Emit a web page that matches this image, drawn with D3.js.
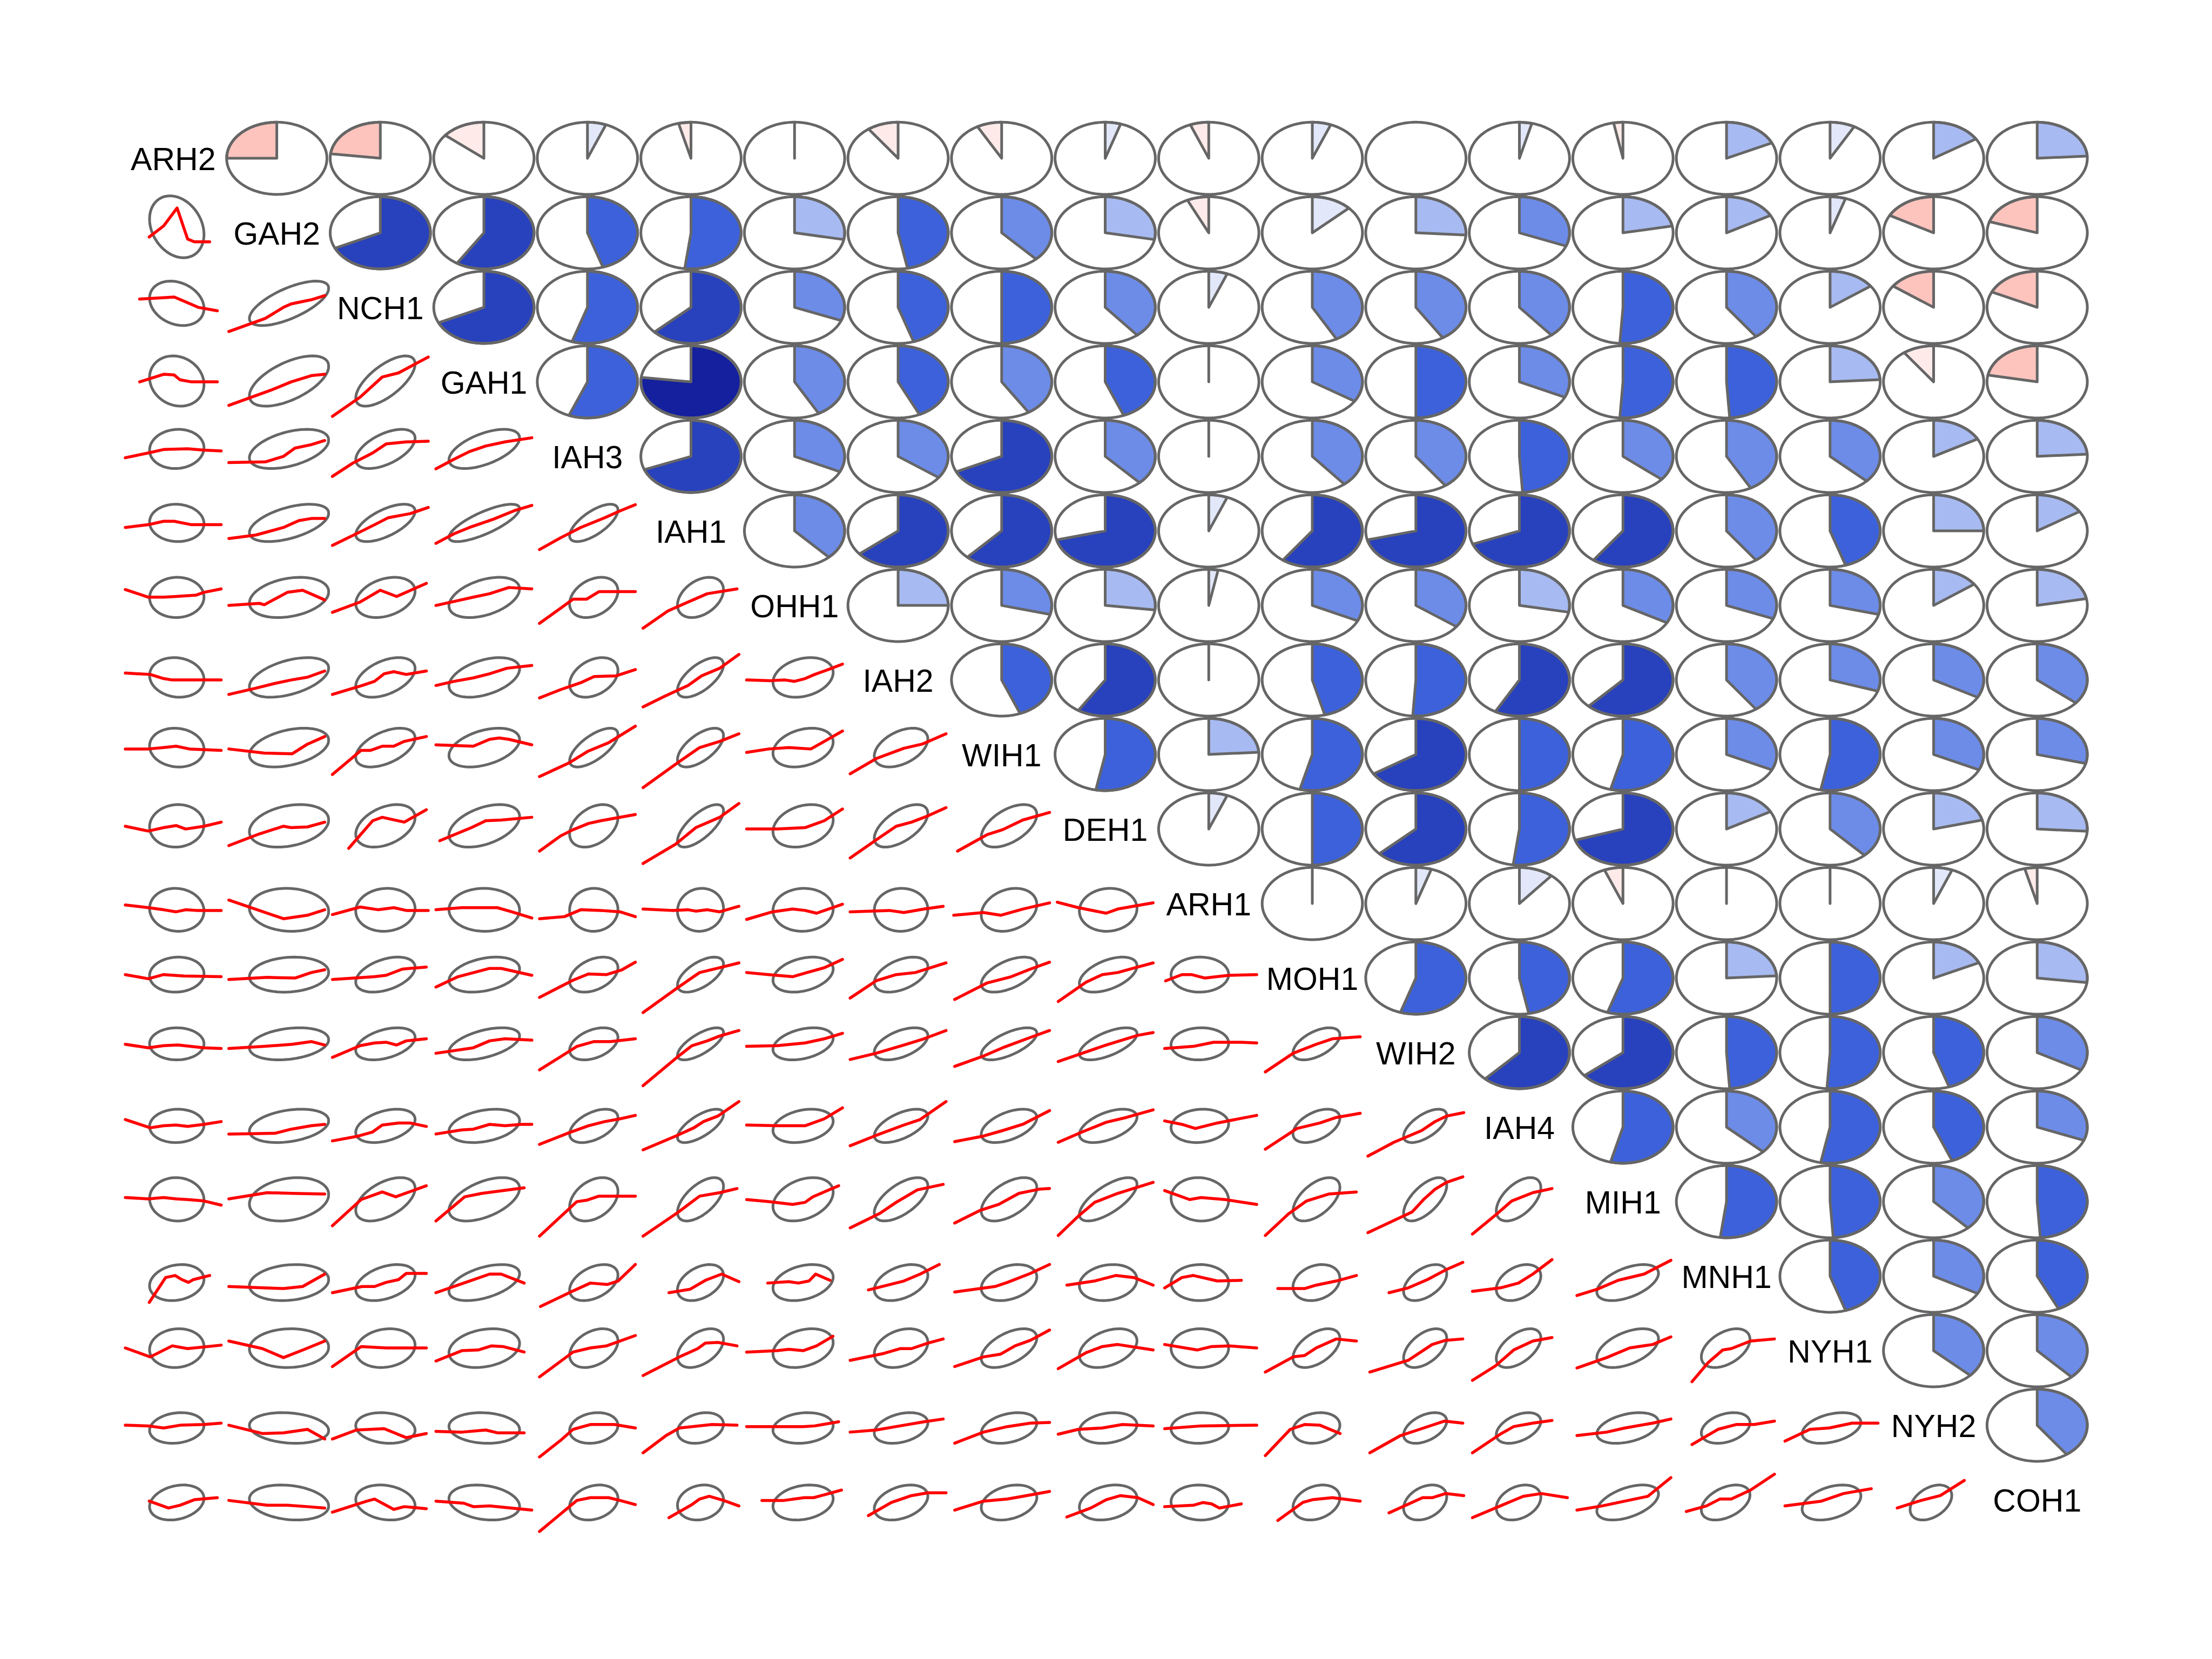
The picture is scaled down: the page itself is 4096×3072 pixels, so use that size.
<!DOCTYPE html>
<html>
<head>
<meta charset="utf-8">
<script src="https://cdn.jsdelivr.net/npm/d3@7"></script>
<style>
html,body{margin:0;padding:0;background:#ffffff;}
svg{display:block;}
</style>
</head>
<body>
<script>
// ---------------- DATA ----------------
const vars = ["ARH2","GAH2","NCH1","GAH1","IAH3","IAH1","OHH1","IAH2","WIH1","DEH1",
              "ARH1","MOH1","WIH2","IAH4","MIH1","MNH1","NYH1","NYH2","COH1"];

// correlations, upper triangle: row i holds r(i, j) for j = i+1 .. 18
const corrUpper = [
 [-0.25,-0.23,-0.14,0.06,-0.04,0.02,-0.10,-0.08,0.05,-0.06,0.06,0.00,0.04,-0.03,0.18,0.08,0.16,0.24],
 [0.68,0.59,0.45,0.52,0.28,0.47,0.38,0.28,-0.07,0.13,0.26,0.31,0.22,0.17,0.05,-0.17,-0.20],
 [0.68,0.55,0.63,0.31,0.45,0.50,0.39,0.06,0.42,0.41,0.39,0.51,0.40,0.15,-0.15,-0.18],
 [0.56,0.77,0.42,0.43,0.41,0.44,-0.01,0.34,0.50,0.32,0.51,0.49,0.24,-0.10,-0.22],
 [0.69,0.32,0.35,0.68,0.38,0.01,0.39,0.40,0.49,0.36,0.42,0.37,0.17,0.24],
 [0.38,0.64,0.62,0.71,0.06,0.60,0.71,0.69,0.60,0.40,0.45,0.25,0.16],
 [0.25,0.29,0.27,0.03,0.32,0.35,0.28,0.33,0.31,0.29,0.15,0.22],
 [0.44,0.59,0.02,0.46,0.51,0.58,0.62,0.40,0.30,0.33,0.36],
 [0.53,0.24,0.54,0.66,0.50,0.54,0.32,0.53,0.32,0.29],
 [0.06,0.50,0.63,0.52,0.70,0.17,0.38,0.21,0.26],
 [0.01,0.05,0.11,-0.06,0.01,0.01,0.06,-0.04],
 [0.55,0.47,0.55,0.24,0.50,0.18,0.27],
 [0.62,0.64,0.49,0.51,0.45,0.33],
 [0.54,0.37,0.53,0.44,0.31],
 [0.52,0.49,0.38,0.49],
 [0.45,0.33,0.43],
 [0.37,0.38],
 [0.40]
];

// per-variable mean and sd, as a fraction of each variable's range (x = column use, y = row use)
const meanX = [0.537,0.628,0.553,0.504,0.566,0.599,0.589,0.531,0.577,0.531,0.407,0.543,0.597,0.491,0.549,0.491,0.515,0.472,null];
const sdX   = [0.188,0.274,0.205,0.244,0.167,0.159,0.208,0.185,0.192,0.199,0.199,0.162,0.149,0.154,0.213,0.168,0.203,0.144,null];
const meanY = [null,0.587,0.558,0.512,0.608,0.616,0.616,0.537,0.600,0.546,0.409,0.550,0.627,0.518,0.534,0.407,0.537,0.460,0.460];
const sdY   = [null,0.297,0.213,0.241,0.188,0.179,0.193,0.190,0.186,0.204,0.206,0.168,0.154,0.160,0.208,0.173,0.186,0.147,0.168];

// lowess smooth lines of the lower panels, in percent of each variable's range: "x,y x,y ..."
const smooth = [
 [],
 ["25,44 40,60 54,86 65,41 72,37 88,37"],
 ["15,62 40,64 51,65 61,59 76,50 96,45","0,15 38,34 57,50 65,55 86,61 100,67"],
 ["15,50 40,61 51,60 57,53 69,50 96,50","0,16 44,38 65,50 86,59 100,61","0,0 29,28 52,57 69,63 100,86"],
 ["0,48 24,55 40,60 65,61 82,59 100,58","0,41 38,42 57,50 69,62 86,67 100,73","0,21 21,40 42,55 56,68 77,71 100,72","0,32 19,46 35,57 52,65 72,71 100,77"],
 ["0,55 24,59 40,64 51,64 69,59 100,59","0,39 28,44 57,55 73,65 86,68 100,68","0,29 31,50 44,59 58,69 81,75 100,84","0,32 19,46 35,55 60,67 83,80 100,87","0,23 22,40 43,55 68,69 84,79 100,88"],
 ["0,73 24,62 40,62 53,63 74,65 82,69 100,74","0,50 32,53 37,51 61,69 77,72 100,58","0,40 29,55 50,72 67,63 98,82","0,50 23,57 39,62 56,67 76,76 100,74","0,24 22,46 35,59 49,59 62,70 100,70","0,17 26,42 47,55 67,67 98,74"],
 ["0,60 26,58 40,52 49,50 82,50 100,50","0,29 28,38 48,45 65,50 82,54 100,63","0,29 31,42 44,48 54,59 64,62 77,58 98,63","0,42 19,48 39,53 56,59 74,67 100,71","0,24 22,36 43,46 57,55 80,56 100,65","0,11 22,26 47,42 61,56 80,67 100,87","0,50 25,49 40,50 50,48 61,52 71,58 87,66 100,73"],
 ["0,58 24,58 40,60 53,62 67,58 100,56","0,58 37,52 66,51 82,65 100,76","0,21 30,56 40,56 52,62 64,62 75,69 98,76","0,64 39,62 56,72 66,74 76,72 100,64","0,18 31,38 51,55 72,67 100,91","0,2 36,38 59,60 80,69 100,80","0,53 23,58 44,60 67,58 81,69 100,84","0,22 27,44 56,59 75,65 100,80"],
 ["0,54 24,47 40,52 53,55 63,50 82,54 100,60","0,26 32,43 57,54 65,52 82,53 100,60","17,22 42,62 52,67 75,60 98,78","4,33 23,44 37,52 52,62 68,63 100,67","0,18 22,40 35,49 51,58 64,62 100,71","0,0 34,28 55,52 80,67 100,87","0,50 32,50 61,52 81,62 100,79","0,8 31,38 48,54 64,60 81,69 100,81","4,18 35,42 51,49 72,63 100,74"],
 ["0,48 24,44 40,41 53,38 63,41 74,40 100,40","0,55 57,28 82,33 100,41","0,34 29,45 48,41 64,44 77,40 100,40","0,41 27,44 64,44 79,38 100,29","0,28 26,31 43,41 64,40 84,38 100,31","0,42 30,40 47,41 55,39 67,41 80,38 100,46","0,27 27,38 48,42 61,40 73,36 100,49","0,38 41,40 56,37 77,42 97,46","0,33 31,37 49,33 72,42 100,51","0,52 22,44 51,36 63,42 100,51"],
 ["0,55 24,49 40,55 61,53 100,52","0,48 40,51 69,50 86,58 100,62","0,48 44,52 56,54 73,63 98,66","0,37 23,52 56,64 68,64 100,54","0,22 35,47 51,56 70,55 86,62 100,73","0,0 36,36 59,58 80,65 100,72","0,58 23,55 48,52 63,58 81,65 100,77","0,21 27,46 48,55 68,58 100,72","1,19 35,43 60,52 80,63 100,73","1,16 30,44 47,55 63,58 84,66 100,72","5,46 22,55 32,55 46,50 71,54 100,55"],
 ["0,62 24,57 40,60 55,61 82,57 100,56","0,56 37,59 66,62 86,66 100,61","0,43 29,60 44,64 56,65 67,61 77,67 98,70","0,49 39,57 56,67 72,70 100,68","0,25 22,44 39,59 57,66 74,66 100,70","0,2 38,46 51,60 67,67 80,74 100,82","0,59 32,60 61,64 81,70 100,78","0,40 27,49 56,61 77,70 100,82","1,30 31,45 51,57 80,72 100,82","1,37 26,49 51,61 72,70 84,75 100,79","4,56 34,59 55,65 84,65 100,64","1,22 30,49 54,62 71,70 100,73"],
 ["0,61 26,49 40,52 53,53 65,51 82,54 100,58","0,40 48,41 65,47 86,52 100,54","0,30 27,37 42,43 52,53 69,56 81,56 98,51","0,40 27,46 39,47 56,54 72,52 89,54 100,54","0,25 31,42 51,52 68,58 84,62 100,67","0,17 34,37 53,49 63,58 78,66 100,87","0,53 32,52 61,52 81,62 100,78","0,23 27,38 56,53 73,61 100,87","1,29 31,37 51,45 72,54 100,74","1,28 26,43 51,57 72,64 100,75","4,59 22,54 36,48 59,56 100,67","1,18 34,48 58,56 75,64 100,70","0,8 27,28 56,45 70,58 82,66 100,71"],
 ["0,56 24,54 40,56 53,54 65,53 82,51 100,45","0,54 40,63 66,62 100,61","0,15 30,53 52,64 66,57 98,73","0,22 30,57 48,62 92,70","0,0 39,50 49,52 62,58 100,58","0,0 36,34 59,58 80,63 98,69","0,53 23,50 48,46 61,49 69,57 96,73","0,12 31,33 48,49 70,67 97,75","1,19 27,37 47,46 68,62 89,68 100,69","1,1 22,29 39,49 63,62 100,78","4,66 30,53 42,56 67,53 100,46","1,1 25,32 44,51 67,61 96,64","0,5 46,35 58,53 70,68 82,78 99,86","1,3 28,34 42,51 64,63 84,69"],
 ["25,12 42,48 52,51 59,45 66,41 71,45 88,51","0,35 37,33 57,32 77,35 100,53","0,26 31,35 44,35 56,41 69,45 77,54 98,54","0,26 31,41 56,53 68,53 92,40","1,6 34,28 53,40 71,38 82,43 100,67","27,26 49,31 65,44 82,53 100,42","22,40 44,42 54,40 65,43 72,53 87,44","19,30 56,43 73,53 93,67","1,27 43,35 56,41 80,54 100,67","10,37 39,43 61,51 80,48 100,37","4,33 22,48 34,51 59,43 84,44","14,32 42,32 54,37 75,43 96,51","22,26 42,33 62,45 81,59 99,70","1,28 30,33 49,40 64,53 84,74","2,22 23,31 45,44 72,53 100,73"],
 ["0,54 26,41 49,57 65,53 100,58","0,64 35,53 57,40 79,52 100,64","0,27 30,56 56,54 98,54","0,35 27,50 44,51 58,57 70,56 92,48","0,12 35,48 53,54 70,57 100,72","0,14 38,41 57,53 65,61 78,62 98,57","0,48 32,50 44,52 59,50 73,57 90,71","0,36 35,46 52,53 64,53 81,61 97,67","1,27 31,41 49,45 64,57 80,65 100,80","1,24 30,47 47,56 63,59 100,51","4,59 38,51 53,56 71,57 100,54","1,19 30,41 42,43 54,54 75,67 96,64","2,19 42,36 67,59 81,65 99,67","1,7 25,28 44,51 64,64 84,69","2,25 33,40 57,54 81,59 100,70","14,5 31,33 46,51 55,53 75,64 100,67"],
 ["0,50 24,49 40,46 57,50 82,51 100,53","0,50 35,38 57,39 82,44 100,30","0,30 25,43 54,45 77,32 98,38","0,41 27,40 52,43 64,39 92,39","0,4 22,28 35,44 53,51 78,51 100,46","0,10 24,35 38,46 72,51 98,50","0,48 32,48 59,48 71,49 96,55","0,40 27,43 56,50 77,55 97,59","1,24 31,40 56,48 80,53 100,54","1,37 22,44 47,46 68,51 100,49","4,45 42,49 100,50","1,6 27,44 42,51 58,50 79,38","2,10 34,35 56,45 80,56 99,53","1,10 30,37 44,48 64,53 84,57","2,35 33,40 52,46 81,53 100,59","14,22 41,44 60,51 79,51 100,56","3,27 29,44 49,46 73,53 100,53"],
 ["25,48 45,38 57,42 72,50 96,53","0,49 40,42 61,42 82,40 100,38","0,32 36,48 44,51 64,36 75,40 98,37","0,48 29,45 39,40 56,41 100,35","0,4 39,49 53,53 72,53 84,49 100,43","27,24 51,43 59,51 69,55 84,49 100,41","16,49 39,49 60,53 70,53 99,64","19,27 43,46 64,56 81,60 100,60","1,35 31,48 56,51 72,55 100,62","10,25 35,38 51,50 66,56 84,53 100,43","4,40 34,42 44,46 53,44 61,38 84,44","14,20 40,46 50,50 71,53 100,48","22,31 57,53 67,53 81,59 100,56","1,24 30,41 54,55 73,59 100,53","2,35 28,41 52,48 76,55 100,82","8,33 29,41 43,51 55,51 75,64 100,87","3,41 41,48 64,59 93,66","12,38 37,49 57,56 82,78"]
];

// 14-step palette (red - salmon - white - royalblue - navy)
const pieColors = ["#FF0000","#FD2723","#FC4F46","#FA7669","#FB9D93","#FDC4BE","#FEEBE9",
                   "#E2E8FA","#A7BAF1","#6D8CE8","#3C61DA","#2841BC","#14209E","#000080"];

// ---------------- LAYOUT ----------------
const W = 4096, H = 3072;
const n = vars.length;
const gridLeft = 224.9, gridTop = 224.1, cellW = 191.75, cellH = 138.0;
const grey = "#666666";
const greyW = 5.0, redW = 5.5;

const svg = d3.select("body").append("svg")
  .attr("width", W).attr("height", H)
  .attr("viewBox", `0 0 ${W} ${H}`);
svg.append("rect").attr("width", W).attr("height", H).attr("fill", "#ffffff");

const colPos = d3.scaleLinear().domain([0, n]).range([gridLeft, gridLeft + n * cellW]);
const rowPos = d3.scaleLinear().domain([0, n]).range([gridTop, gridTop + n * cellH]);
const colorIndex = d3.scaleQuantize().domain([-1, 1]).range(d3.range(14));

function cellScales(i, j) {
  const left = colPos(j), top = rowPos(i);
  const sx = d3.scaleLinear().domain([-4, 104]).range([left, left + cellW]);
  const sy = d3.scaleLinear().domain([-4, 104]).range([top + cellH, top]);
  return [sx, sy];
}
function corrAt(i, j) {
  const a = Math.min(i, j), b = Math.max(i, j);
  return corrUpper[a][b - a - 1];
}

const gPie = svg.append("g");
const gLow = svg.append("g");
const gTxt = svg.append("g");

const pieR = 52.3; // in data units (percent of range)

for (let i = 0; i < n; i++) {
  for (let j = 0; j < n; j++) {
    const [sx, sy] = cellScales(i, j);
    const line = d3.line().x(d => sx(d[0])).y(d => sy(d[1]));
    if (i === j) {
      gTxt.append("text")
        .attr("x", sx(50)).attr("y", sy(50))
        .attr("dy", "0.375em")
        .attr("text-anchor", "middle")
        .attr("font-family", "'Liberation Sans', Arial, Helvetica, sans-serif")
        .attr("font-size", 59)
        .attr("fill", "#000000")
        .text(vars[i]);
    } else if (j > i) {
      // pie panel
      const r = corrAt(i, j);
      const seg = Math.round(60 * Math.abs(r));
      if (seg > 0) {
        const pts = d3.range(seg).map(k => {
          const a = seg === 1 ? Math.PI / 2 : Math.PI / 2 + (2 * Math.PI * -r) * k / (seg - 1);
          return [50 + Math.cos(a) * pieR, 50 + Math.sin(a) * pieR];
        });
        pts.push([50, 50]);
        pts.push(pts[0]);
        gPie.append("path")
          .attr("d", line(pts) + "Z")
          .attr("fill", pieColors[colorIndex(r)])
          .attr("stroke", grey).attr("stroke-width", greyW)
          .attr("stroke-linejoin", "round");
      }
      const circ = d3.range(200).map(k => {
        const t = 2 * Math.PI * k / 199;
        return [50 + Math.cos(t) * pieR, 50 + Math.sin(t) * pieR];
      });
      gPie.append("path")
        .attr("d", line(circ) + "Z")
        .attr("fill", "none")
        .attr("stroke", grey).attr("stroke-width", greyW);
    } else {
      // lower panel: ellipse + smooth
      const r = corrAt(i, j);
      const mx = meanX[j] * 100, sdx = sdX[j] * 100;
      const my = meanY[i] * 100, sdy = sdY[i] * 100;
      const rad = 1.51;
      const clamp = v => Math.max(-4, Math.min(104, v));
      const ell = d3.range(75).map(k => {
        const a = 2 * Math.PI * k / 74;
        const ex = mx + rad * sdx * Math.cos(a);
        const ey = my + rad * sdy * (r * Math.cos(a) + Math.sqrt(1 - r * r) * Math.sin(a));
        return [clamp(ex), clamp(ey)];
      });
      gLow.append("path")
        .attr("d", line(ell) + "Z")
        .attr("fill", "none")
        .attr("stroke", grey).attr("stroke-width", greyW)
        .attr("stroke-linejoin", "round");
      const pts = smooth[i][j].split(" ").map(s => s.split(",").map(Number));
      gLow.append("path")
        .attr("d", line(pts))
        .attr("fill", "none")
        .attr("stroke", "#FF0000").attr("stroke-width", redW)
        .attr("stroke-linejoin", "round").attr("stroke-linecap", "round");
    }
  }
}
</script>
</body>
</html>
